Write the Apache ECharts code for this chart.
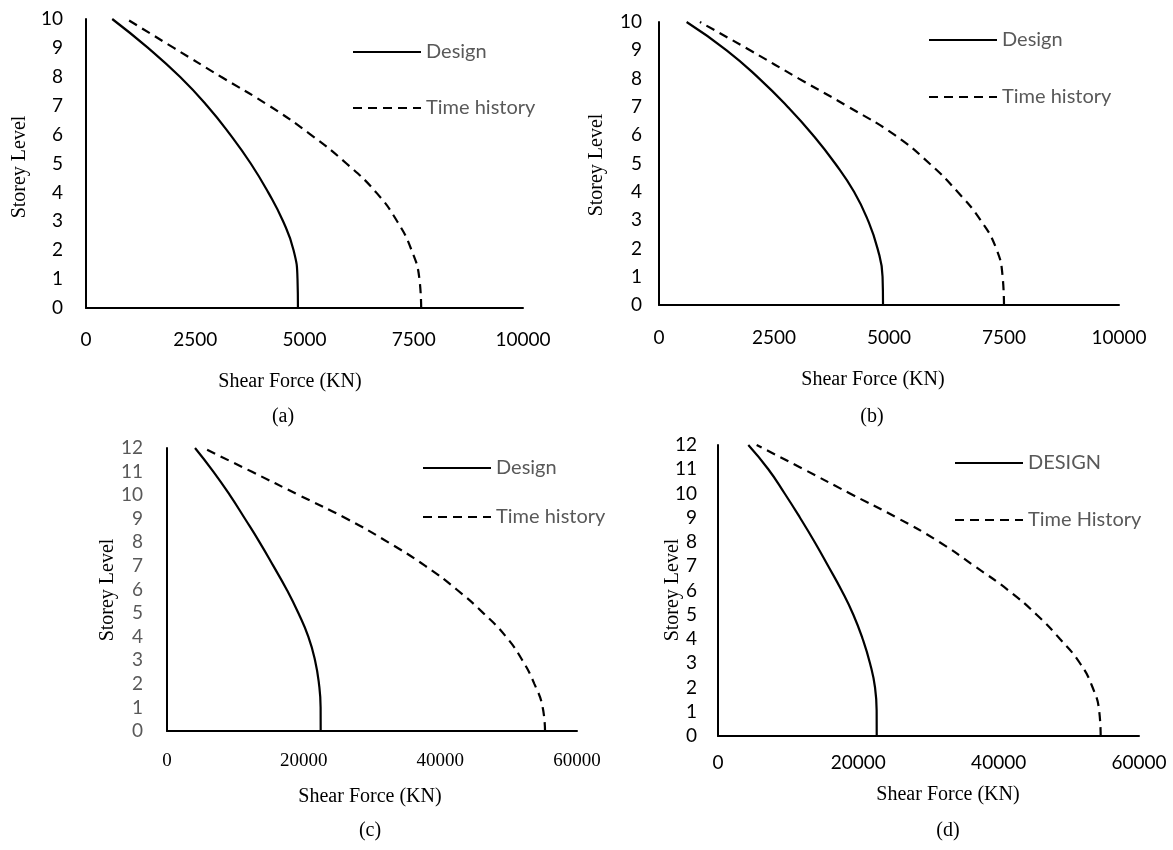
<!DOCTYPE html>
<html>
<head>
<meta charset="utf-8">
<script src="https://cdn.jsdelivr.net/npm/echarts@6/dist/echarts.min.js"></script>
<style>
html,body{margin:0;padding:0;background:#fff;}
#chart{width:1173px;height:850px;}
</style>
</head>
<body>
<div id="chart"></div>
<script>
// ---- Data ----
const levels10 = [0,1,2,3,4,5,6,7,8,9,10];
const levels12 = [0,1,2,3,4,5,6,7,8,9,10,11,12];

const aDesign = [4850,4840,4750,4510,4170,3770,3300,2770,2150,1420,600];
const aTimeHistory = [7670,7630,7450,7120,6640,5960,5140,4190,3090,2010,930];

const bDesign = [4870,4860,4750,4540,4240,3830,3350,2800,2180,1470,600];
const bTimeHistory = [7500,7470,7330,6990,6490,5880,5130,4120,3040,1980,890];

const cDesign = [22490,22480,22240,21660,20680,19220,17510,15560,13560,11410,9200,6780,4100];
const cTimeHistory = [55320,54980,53760,52000,49610,46290,42390,37800,32390,26300,19320,12370,5320];

const dDesign = [22620,22610,22380,21660,20620,19290,17620,15720,13770,11690,9500,7170,4320];
const dTimeHistory = [54540,54340,53390,51590,48740,45420,41410,36590,31540,25510,18810,12210,5510];

const legendNames = {
  a: ['Design','Time history'],
  b: ['Design','Time history'],
  c: ['Design','Time history'],
  d: ['DESIGN','Time History']
};
const xTitle = 'Shear Force (KN)';
const yTitle = 'Storey Level';
const captions = ['(a)','(b)','(c)','(d)'];

// ---- Chart ----
const SANS = 'Lato';
const SERIF = '"Liberation Serif","Times New Roman",serif';
const chart = echarts.init(document.getElementById('chart'), null, {renderer:'canvas'});

const grids = [
  {left:86, top:19, width:437, height:289},
  {left:659, top:22, width:460, height:283},
  {left:167, top:448, width:410, height:283},
  {left:718, top:445, width:421, height:291}
];

const axisLine = {show:true, lineStyle:{color:'#000', width:2}};
const plain = v => String(v);

function xAxis(i, max, interval, labelFont, labelColor, margin){
  return {
    type:'value', gridIndex:i, min:0, max:max, interval:interval,
    axisLine:axisLine, axisTick:{show:false}, splitLine:{show:false},
    axisLabel:{fontFamily:labelFont, fontSize:19, color:labelColor, margin:margin,
      formatter:plain, showMinLabel:true, showMaxLabel:true}
  };
}
function yAxis(i, max, labelColor, margin){
  return {
    type:'value', gridIndex:i, min:0, max:max, interval:1,
    axisLine:axisLine, axisTick:{show:false}, splitLine:{show:false},
    axisLabel:{fontFamily:SANS, fontSize:19, color:labelColor, margin:margin,
      formatter:plain, showMinLabel:true, showMaxLabel:true}
  };
}

function pairs(xs, ys){ return xs.map((v,k)=>[v, ys[k]]); }

function lineSeries(name, i, xs, ys, dashed){
  return {
    name:name, type:'line', xAxisIndex:i, yAxisIndex:i,
    data:pairs(xs, ys), smooth:0.5, symbol:'none', showSymbol:false,
    lineStyle:{color:'#000', width:2.2, type: dashed ? [9,6] : 'solid'},
    itemStyle:{color:'#000'},
    emphasis:{disabled:true}, animation:false
  };
}

function legend(names, left, top, gap){
  return {
    data:names.map(n=>({name:n})), orient:'vertical', left:left, top:top,
    itemWidth:68, itemHeight:14, itemGap:gap, selectedMode:false,
    itemStyle:{color:'rgba(0,0,0,0)', borderWidth:0, opacity:0},
    textStyle:{fontFamily:SANS, fontSize:20, color:'#595959'}
  };
}

function text(str, x, y, font, rot, color){
  return {
    type:'text', x:x, y:y, rotation: rot||0,
    style:{text:str, font:'20px ' + font, fill:color||'#000',
      textAlign:'center', textVerticalAlign:'middle'}
  };
}

const option = {
  backgroundColor:'#fff',
  animation:false,
  grid:grids,
  xAxis:[
    xAxis(0, 10000, 2500, SANS, '#000', 22),
    xAxis(1, 10000, 2500, SANS, '#000', 23),
    xAxis(2, 60000, 20000, SERIF, '#000', 21),
    xAxis(3, 60000, 20000, SANS, '#000', 17)
  ],
  yAxis:[
    yAxis(0, 10, '#000', 23),
    yAxis(1, 10, '#000', 17),
    yAxis(2, 12, '#595959', 24),
    yAxis(3, 12, '#000', 21)
  ],
  legend:[
    legend(legendNames.a, 347, 37, 36),
    legend(legendNames.b, 923, 25, 37),
    legend(legendNames.c, 417, 453, 29),
    legend(legendNames.d, 949, 448, 37)
  ],
  series:[
    lineSeries(legendNames.a[0], 0, aDesign, levels10, false),
    lineSeries(legendNames.a[1], 0, aTimeHistory, levels10, true),
    lineSeries(legendNames.b[0], 1, bDesign, levels10, false),
    lineSeries(legendNames.b[1], 1, bTimeHistory, levels10, true),
    lineSeries(legendNames.c[0], 2, cDesign, levels12, false),
    lineSeries(legendNames.c[1], 2, cTimeHistory, levels12, true),
    lineSeries(legendNames.d[0], 3, dDesign, levels12, false),
    lineSeries(legendNames.d[1], 3, dTimeHistory, levels12, true)
  ],
  graphic:[
    text(xTitle, 290, 382, SERIF),
    text(xTitle, 873, 380, SERIF),
    text(xTitle, 370, 797, SERIF),
    text(xTitle, 948, 795, SERIF),
    text(yTitle, 20, 167, SERIF, Math.PI/2),
    text(yTitle, 597, 165, SERIF, Math.PI/2),
    text(yTitle, 108, 590, SERIF, Math.PI/2),
    text(yTitle, 673, 590, SERIF, Math.PI/2),
    text(captions[0], 283, 417, SERIF),
    text(captions[1], 872, 417, SERIF),
    text(captions[2], 370, 831, SERIF),
    text(captions[3], 948, 831, SERIF)
  ]
};
chart.setOption(option);
</script>
</body>
</html>
